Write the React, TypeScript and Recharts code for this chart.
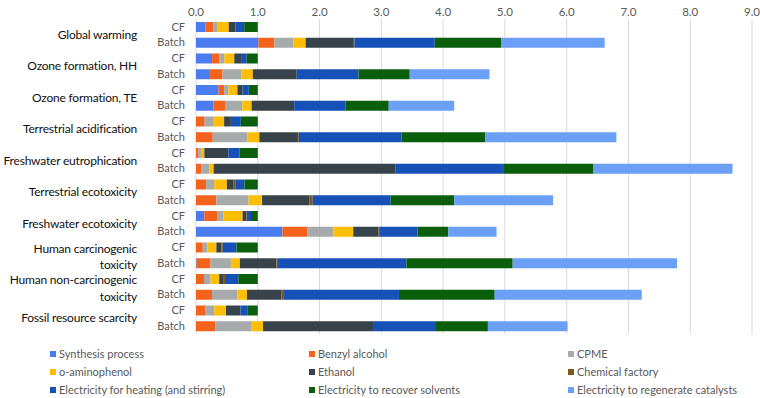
import React from "react";
import { Bar, BarChart, CartesianGrid, XAxis, YAxis } from "recharts";

const categories = [
  ["Global warming"],
  ["Ozone formation, HH"],
  ["Ozone formation, TE"],
  ["Terrestrial acidification"],
  ["Freshwater eutrophication"],
  ["Terrestrial ecotoxicity"],
  ["Freshwater ecotoxicity"],
  ["Human carcinogenic", "toxicity"],
  ["Human non-carcinogenic", "toxicity"],
  ["Fossil resource scarcity"],
];
const processes = ["CF", "Batch"];
const xTicks = [0, 1, 2, 3, 4, 5, 6, 7, 8, 9];

// one value per row: CF, Batch for each category, top to bottom
const synthesis = [0.15, 1.01, 0.26, 0.21, 0.365, 0.28, 0, 0, 0, 0, 0, 0, 0.135, 1.4, 0, 0.01, 0, 0, 0, 0];
const benzylAlcohol = [0.13, 0.26, 0.12, 0.22, 0.09, 0.19, 0.14, 0.27, 0.04, 0.09, 0.165, 0.33, 0.205, 0.4, 0.11, 0.225, 0.13, 0.26, 0.155, 0.31];
const cpme = [0.07, 0.31, 0.08, 0.31, 0.07, 0.28, 0.135, 0.56, 0.04, 0.13, 0.13, 0.52, 0.1, 0.42, 0.075, 0.33, 0.105, 0.41, 0.14, 0.58];
const aminophenol = [0.18, 0.195, 0.16, 0.18, 0.145, 0.15, 0.18, 0.195, 0.055, 0.065, 0.205, 0.22, 0.315, 0.325, 0.145, 0.145, 0.14, 0.155, 0.19, 0.195];
const ethanol = [0.11, 0.78, 0.11, 0.71, 0.085, 0.69, 0.11, 0.625, 0.39, 2.94, 0.1, 0.77, 0.06, 0.41, 0.08, 0.59, 0.075, 0.56, 0.235, 1.78];
const chemFactory = [0, 0.01, 0, 0, 0, 0, 0, 0.015, 0, 0, 0.045, 0.05, 0.01, 0.01, 0.025, 0.026, 0.02, 0.04, 0, 0];
const elecHeating = [0.14, 1.3, 0.09, 1.0, 0.1, 0.83, 0.16, 1.66, 0.18, 1.76, 0.14, 1.26, 0.065, 0.62, 0.22, 2.08, 0.215, 1.86, 0.11, 1.02];
const elecRecover = [0.22, 1.08, 0.18, 0.83, 0.145, 0.7, 0.275, 1.36, 0.295, 1.45, 0.215, 1.03, 0.11, 0.5, 0.345, 1.72, 0.315, 1.55, 0.17, 0.84];
const elecRegen = [0, 1.67, 0, 1.29, 0, 1.06, 0, 2.12, 0, 2.25, 0, 1.6, 0, 0.78, 0, 2.66, 0, 2.38, 0, 1.29];

const series = [
  { key: "synthesis", name: "Synthesis process", color: "#4a7cef", values: synthesis },
  { key: "benzyl", name: "Benzyl alcohol", color: "#f5621c", values: benzylAlcohol },
  { key: "cpme", name: "CPME", color: "#a6aaaa", values: cpme },
  { key: "amino", name: "o-aminophenol", color: "#fdbe05", values: aminophenol },
  { key: "ethanol", name: "Ethanol", color: "#37424a", values: ethanol },
  { key: "chem", name: "Chemical factory", color: "#7b5a22", values: chemFactory },
  { key: "heat", name: "Electricity for heating (and stirring)", color: "#1551b7", values: elecHeating },
  { key: "recover", name: "Electricity to recover solvents", color: "#0b5e0b", values: elecRecover },
  { key: "regen", name: "Electricity to regenerate catalysts", color: "#6b9ff8", values: elecRegen },
];

const rows = categories.flatMap((cat, ci) =>
  processes.map((p, pi) => {
    const i = ci * 2 + pi;
    const row: Record<string, any> = { id: `${ci}-${p}`, cat: ci, proc: p };
    series.forEach((s) => (row[s.key] = s.values[i]));
    return row;
  })
);

const FONT = "Lato, 'Noto Sans', sans-serif";
const PITCH = 15.75;

function RowTick(props: any) {
  const { y, payload } = props;
  const [ci, proc] = String(payload.value).split("-");
  const lines = categories[Number(ci)];
  const isFirst = proc === "CF";
  const catStyle = { fontSize: 12, fill: "#111", fontFamily: FONT, letterSpacing: -0.2 };
  return (
    <g>
      <text x={185} y={y} dy="0.35em" textAnchor="end" fontSize={11} fill="#595959" fontFamily={FONT}>
        {proc}
      </text>
      {isFirst &&
        (lines.length === 1 ? (
          <text x={137} y={y + PITCH / 2} dy="0.35em" textAnchor="end" {...catStyle}>
            {lines[0]}
          </text>
        ) : (
          <text x={137} y={y + 1} dy="0.35em" textAnchor="end" {...catStyle}>
            <tspan x={137}>{lines[0]}</tspan>
            <tspan x={137} dy={16.5}>{lines[1]}</tspan>
          </text>
        ))}
    </g>
  );
}

function LegendBox() {
  const cols = [50, 309, 568];
  return (
    <div style={{ position: "absolute", left: 0, top: 345, width: 760, height: 54, fontFamily: FONT }}>
      {series.map((s, i) => (
        <div
          key={s.key}
          style={{
            position: "absolute",
            left: cols[i % 3],
            top: Math.floor(i / 3) * 18,
            display: "flex",
            alignItems: "center",
            fontSize: 11,
            color: "#595959",
            whiteSpace: "nowrap",
            lineHeight: "18px",
          }}
        >
          <span style={{ display: "inline-block", width: 6, height: 6, background: s.color, marginRight: 3 }} />
          {s.name}
        </div>
      ))}
    </div>
  );
}

export default function App() {
  return (
    <div style={{ position: "absolute", left: 0, top: 0, width: 760, height: 398, background: "#fff" }}>
      <BarChart
        width={760}
        height={398}
        data={rows}
        layout="vertical"
        margin={{ top: 0, right: 8, bottom: 64, left: 0 }}
        barCategoryGap="19%"
      >
        <CartesianGrid horizontal={false} stroke="#d9d9d9" />
        <XAxis
          type="number"
          orientation="top"
          domain={[0, 9]}
          ticks={xTicks}
          height={19}
          tickSize={0}
          tickMargin={3}
          axisLine={false}
          tickLine={false}
          tickFormatter={(v) => Number(v).toFixed(1)}
          tick={{ fontSize: 11.5, fill: "#595959", fontFamily: FONT }}
        />
        <YAxis
          type="category"
          dataKey="id"
          width={196}
          axisLine={false}
          tickLine={false}
          interval={0}
          tick={<RowTick />}
        />
        {series.map((s) => (
          <Bar key={s.key} dataKey={s.key} name={s.name} stackId="a" fill={s.color} isAnimationActive={false} />
        ))}
      </BarChart>
      <LegendBox />
    </div>
  );
}
